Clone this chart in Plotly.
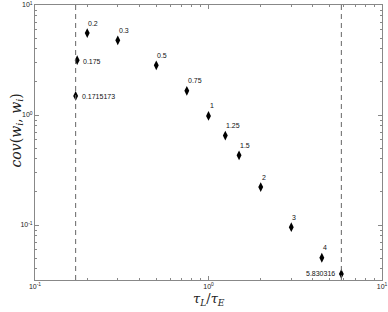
import math
import plotly.graph_objects as go

ratio_x = [0.1715173, 0.175, 0.2, 0.3, 0.5, 0.75, 1.0, 1.25, 1.5, 2.0, 3.0, 4.5, 5.830316]
cov_y = [1.49, 3.15, 5.56, 4.77, 2.83, 1.66, 0.98, 0.65, 0.43, 0.221, 0.0955, 0.0504, 0.0359]
point_labels = ["0.1715173", "0.175", "0.2", "0.3", "0.5", "0.75", "1", "1.25", "1.5", "2", "3", "4", "5.830316"]
label_side = ["right", "right"] + ["above"] * 10 + ["left"]
bound_lines = [0.1715173, 5.830316]
tick_vals = [0.1, 1, 10]
tick_text = ["10<sup>-1</sup>", "10<sup>0</sup>", "10<sup>1</sup>"]
minor_x = [m * 10 ** e for e in (-1, 0) for m in range(2, 10)]
minor_y = [m * 10 ** e for e in (-2, -1, 0) for m in range(2, 10)]

fig = go.Figure()
fig.add_trace(go.Scatter(
    x=ratio_x, y=cov_y, mode="markers",
    marker=dict(symbol="diamond-tall", size=7, color="black"),
    showlegend=False, cliponaxis=False,
))
lab_font = dict(size=7, color="#111", family="Liberation Sans")
for xv, yv, t, s in zip(ratio_x, cov_y, point_labels, label_side):
    # annotations on log axes take log10 positions
    ax, ay = math.log10(xv), math.log10(yv)
    if s == "above":
        fig.add_annotation(x=ax, y=ay, xref="x", yref="y", text=t, showarrow=False,
                           xanchor="left", yanchor="middle", xshift=-1, yshift=10, font=lab_font)
    elif s == "right":
        fig.add_annotation(x=ax, y=ay, xref="x", yref="y", text=t, showarrow=False,
                           xanchor="left", yanchor="middle", xshift=4, yshift=-1, font=lab_font)
    else:
        fig.add_annotation(x=ax, y=ay, xref="x", yref="y", text=t, showarrow=False,
                           xanchor="right", yanchor="middle", xshift=-4, yshift=0, font=lab_font)
for v in bound_lines:
    fig.add_shape(type="line", xref="x", yref="paper", x0=v, x1=v, y0=0, y1=1,
                  line=dict(color="#666", width=1, dash="5px,4px"))

axis_common = dict(
    type="log", showgrid=False, zeroline=False, showline=True, linecolor="#888",
    linewidth=1, mirror="ticks", ticks="inside", ticklen=4, tickcolor="#888",
    tickvals=tick_vals, ticktext=tick_text, automargin=False,
    tickfont=dict(size=7, color="#222", family="Liberation Sans"),
)
fig.update_xaxes(range=[-1, 1],
                 minor=dict(ticks="inside", ticklen=2, tickcolor="#888", showgrid=False,
                            tickmode="array", tickvals=minor_x),
                 **axis_common)
fig.update_yaxes(range=[-1.5, 1],
                 minor=dict(ticks="inside", ticklen=2, tickcolor="#888", showgrid=False,
                            tickmode="array", tickvals=minor_y),
                 **axis_common)

fig.add_annotation(text="<i>τ<sub>L</sub></i>/<i>τ<sub>E</sub></i>", xref="paper", yref="paper",
                   x=0.5, y=0, yshift=-30, showarrow=False,
                   font=dict(size=13, family="DejaVu Serif", color="#222"))
fig.add_annotation(text="<i>cov</i>(<i>w<sub>i</sub></i>, <i>w<sub>i</sub></i>)", xref="paper", yref="paper",
                   x=0, xshift=-30, y=0.5, yshift=12, textangle=-90, showarrow=False,
                   font=dict(size=14, family="DejaVu Serif", color="#222"))

fig.update_layout(
    width=388, height=312, margin=dict(l=35, r=6, t=5, b=32),
    plot_bgcolor="white", paper_bgcolor="white",
)
fig.write_html("out.html", config={"displayModeBar": False},
               post_script="document.body.style.margin='0';")
